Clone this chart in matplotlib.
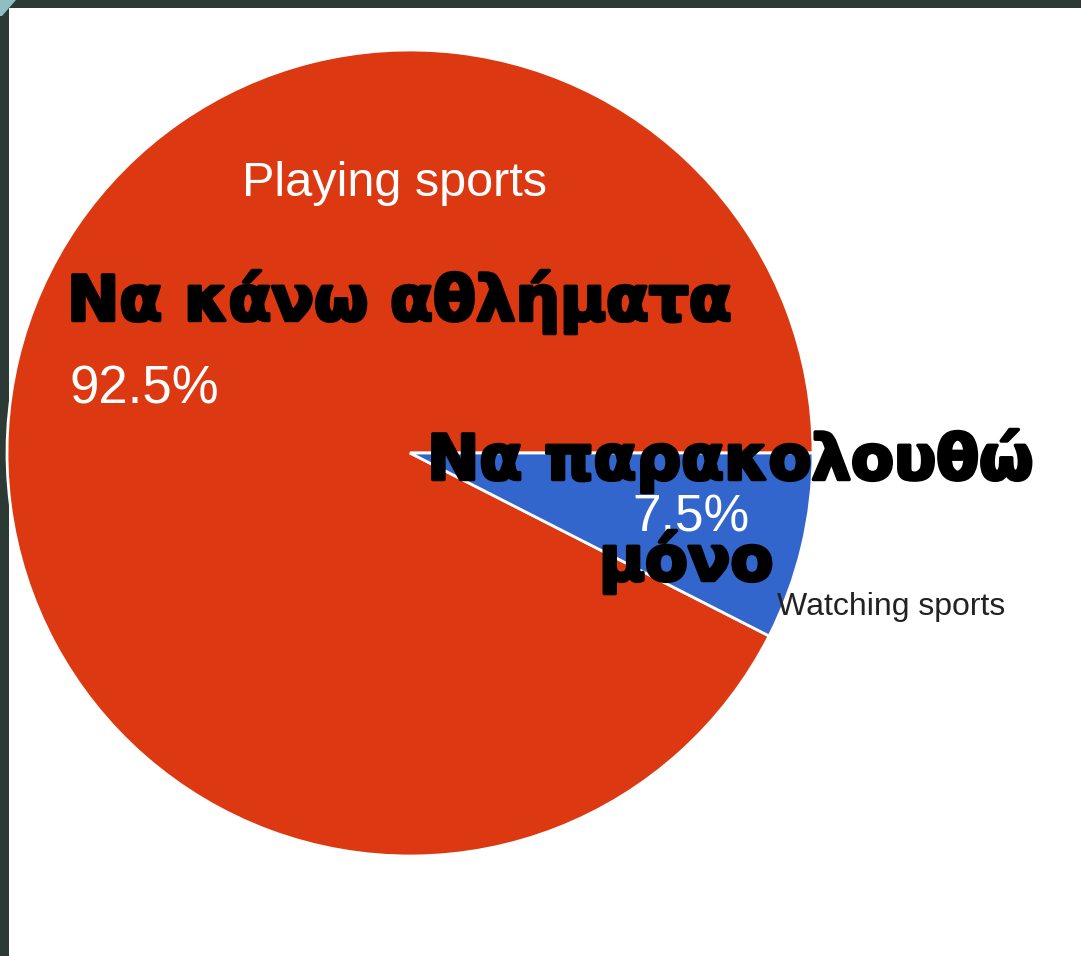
import matplotlib
matplotlib.use("Agg")
import matplotlib.pyplot as plt
import matplotlib.patheffects as pe
from matplotlib.patches import Rectangle, Polygon

# data
labels_gr = ["Να κάνω αθλήματα", "Να παρακολουθώ\nμόνο"]
labels_en = ["Playing sports", "Watching sports"]
values = [92.5, 7.5]
colors = ["#dc3912", "#3366cc"]

W, H = 1081, 956
fig = plt.figure(figsize=(W / 100, H / 100), dpi=100)
fig.patch.set_facecolor("white")
border = "#2b3a35"
# dark frame along the top and the left edge
fig.patches.append(Rectangle((0, 1 - 8 / H), 1, 8 / H, transform=fig.transFigure,
                             facecolor=border, edgecolor="none", zorder=-1))
fig.patches.append(Rectangle((0, 0), 9 / W, 1, transform=fig.transFigure,
                             facecolor=border, edgecolor="none", zorder=-1))
fig.patches.append(Polygon([(0, 1), (16 / W, 1), (2 / W, 1 - 16 / H), (0, 1 - 16 / H)],
                           closed=True, transform=fig.transFigure,
                           facecolor="#8fbfc0", edgecolor="none", zorder=-1))

# pie centre and radius in pixels
cx, cy, r = 410, 453, 403
ax = fig.add_axes([(cx - r) / W, (H - cy - r) / H, 2 * r / W, 2 * r / H])
ax.pie(values, colors=colors, startangle=0, counterclock=True,
       wedgeprops=dict(edgecolor="white", linewidth=2))
ax.set_xlim(-1, 1)
ax.set_ylim(-1, 1)
ax.set_aspect("equal")
ax.axis("off")


def px(x, y):
    return (x - cx) / r, (cy - y) / r


heavy = [pe.withStroke(linewidth=2.5, foreground="black")]
bold = dict(family="DejaVu Sans", weight="bold", color="black",
            ha="center", va="center", path_effects=heavy)
plain = dict(family="Liberation Sans", ha="center", va="center")

ax.text(*px(395, 183), labels_en[0], color="white", fontsize=35, **plain)
ax.text(*px(399, 302), labels_gr[0], fontsize=45, **bold)
ax.text(*px(144, 390), f"{values[0]}%", color="white", fontsize=38, **plain)

line1, line2 = labels_gr[1].split("\n")
ax.text(*px(730, 461), line1, fontsize=45, zorder=5, clip_on=False, **bold)
ax.text(*px(691, 518), f"{values[1]}%", color="white", fontsize=37, zorder=4, **plain)
ax.text(*px(686, 562), line2, fontsize=45, zorder=5, **bold)
ax.text(*px(891, 607), labels_en[1], color="#222222", fontsize=23, clip_on=False, **plain)

fig.savefig("out.png", dpi=100, facecolor=fig.get_facecolor())
